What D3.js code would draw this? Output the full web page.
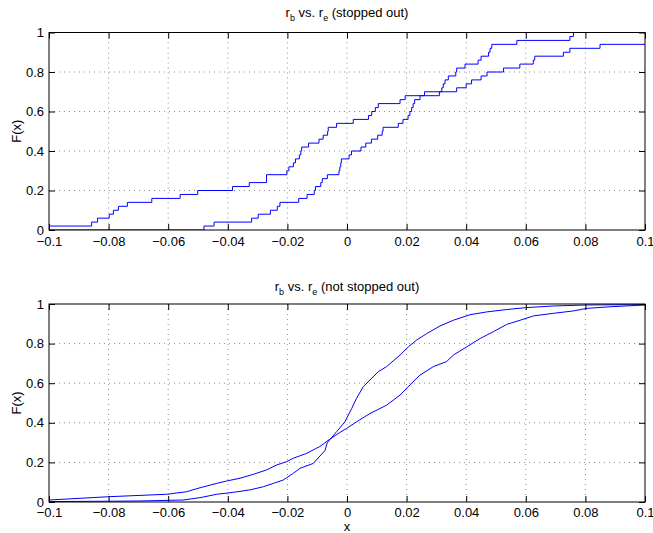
<!DOCTYPE html>
<html>
<head>
<meta charset="utf-8">
<script src="https://cdn.jsdelivr.net/npm/d3@7"></script>
<style>
  body { margin: 0; background: #fff; }
  text { font-family: "Liberation Sans", Arial, Helvetica, sans-serif; }
</style>
</head>
<body>
<svg class="svg"></svg>
<script>
// x ticks shared by both panels
const xTicks = [-0.1, -0.08, -0.06, -0.04, -0.02, 0, 0.02, 0.04, 0.06, 0.08, 0.1];
const xTickLabels = ["\u22120.1", "\u22120.08", "\u22120.06", "\u22120.04", "\u22120.02", "0", "0.02", "0.04", "0.06", "0.08", "0.1"];
const yTicks = [0, 0.2, 0.4, 0.6, 0.8, 1];
const yTickLabels = ["0", "0.2", "0.4", "0.6", "0.8", "1"];

// stopped out, curve spread wider (step ecdf)
const stopA_x = [-0.1, -0.0857, -0.0837, -0.0798, -0.0784, -0.0767, -0.0737, -0.0655, -0.056, -0.0501,
  -0.0384, -0.0328, -0.027, -0.0202, -0.0195, -0.018, -0.0173, -0.016, -0.0155, -0.0152,
  -0.0129, -0.0094, -0.008, -0.0065, -0.0063, -0.0035, 0.0021, 0.0072, 0.0083, 0.0095,
  0.0105, 0.0178, 0.0195, 0.026, 0.0368, 0.040, 0.0418, 0.045, 0.047, 0.0525,
  0.058, 0.0625, 0.063, 0.0726, 0.0748, 0.0849, 0.1];
const stopA_F = [0.02, 0.04, 0.06, 0.08, 0.10, 0.12, 0.14, 0.16, 0.18, 0.20,
  0.22, 0.24, 0.28, 0.30, 0.32, 0.34, 0.36, 0.38, 0.40, 0.42,
  0.44, 0.46, 0.48, 0.50, 0.52, 0.54, 0.56, 0.58, 0.60, 0.62,
  0.64, 0.66, 0.68, 0.70, 0.72, 0.74, 0.76, 0.78, 0.80, 0.82,
  0.84, 0.86, 0.88, 0.90, 0.92, 0.94, 0.94];

// stopped out, narrower curve
const stopB_x = [-0.1, -0.048, -0.0446, -0.032, -0.0298, -0.0257, -0.0234, -0.0225, -0.0162, -0.0134,
  -0.011, -0.0106, -0.0088, -0.0083, -0.0066, -0.0027, -0.0024, -0.0021, -0.0019, 0.0007,
  0.0015, 0.0047, 0.0063, 0.0082, 0.0103, 0.0118, 0.0121, 0.0172, 0.0188, 0.0205,
  0.0211, 0.0217, 0.0222, 0.0227, 0.0245, 0.031, 0.0318, 0.0323, 0.0329, 0.034,
  0.0365, 0.0368, 0.0396, 0.044, 0.045, 0.0475, 0.048, 0.0486, 0.057, 0.0748,
  0.076, 0.1];
const stopB_F = [0, 0.02, 0.04, 0.06, 0.08, 0.10, 0.12, 0.14, 0.16, 0.18,
  0.20, 0.22, 0.24, 0.26, 0.28, 0.30, 0.32, 0.34, 0.36, 0.38,
  0.40, 0.42, 0.44, 0.46, 0.48, 0.50, 0.52, 0.54, 0.56, 0.58,
  0.60, 0.62, 0.64, 0.66, 0.68, 0.70, 0.72, 0.74, 0.76, 0.78,
  0.80, 0.82, 0.84, 0.86, 0.88, 0.90, 0.92, 0.94, 0.96, 0.98,
  1.00, 1.00];

// not stopped out (many samples, looks smooth)
const notA_x = [-0.1, -0.0795, -0.0605, -0.0538, -0.0493, -0.0437, -0.0404, -0.0359, -0.0314, -0.027,
  -0.0236, -0.0202, -0.018, -0.0135, -0.0102, -0.0091, -0.0057, -0.0023, -0.0001, 0.0032,
  0.0077, 0.0133, 0.0178, 0.0211, 0.0245, 0.029, 0.0334, 0.0357, 0.0402, 0.0447,
  0.0491, 0.0536, 0.0581, 0.0626, 0.0693, 0.076, 0.0805, 0.0883, 0.1];
const notA_F = [0.010, 0.027, 0.039, 0.052, 0.072, 0.094, 0.106, 0.120, 0.140, 0.162,
  0.187, 0.204, 0.221, 0.246, 0.272, 0.280, 0.318, 0.352, 0.372, 0.405,
  0.447, 0.489, 0.540, 0.591, 0.641, 0.684, 0.709, 0.742, 0.784, 0.826,
  0.860, 0.897, 0.918, 0.940, 0.953, 0.965, 0.978, 0.986, 0.995];

const notB_x = [-0.1, -0.07, -0.055, -0.0493, -0.0437, -0.0381, -0.0326, -0.0281, -0.0247, -0.0214,
  -0.018, -0.0158, -0.0113, -0.0091, -0.0074, -0.0066, -0.0035, -0.0007, 0.0016, 0.0032,
  0.0055, 0.0105, 0.0133, 0.0178, 0.0206, 0.0234, 0.0267, 0.0312, 0.0357, 0.0413,
  0.0469, 0.0536, 0.0603, 0.0693, 0.0805, 0.1];
const notB_F = [0.002, 0.005, 0.010, 0.022, 0.039, 0.049, 0.061, 0.077, 0.094, 0.111,
  0.145, 0.170, 0.195, 0.232, 0.260, 0.300, 0.355, 0.405, 0.473, 0.524,
  0.583, 0.658, 0.684, 0.742, 0.784, 0.818, 0.850, 0.889, 0.918, 0.946,
  0.960, 0.972, 0.982, 0.990, 0.995, 0.997];

const width = 653, height = 533;
const svg = d3.select(".svg").attr("width", width).attr("height", height);

const x = d3.scaleLinear().domain([-0.1, 0.1]).range([49, 645]);

const panels = [
  { top: 32.5, bottom: 230, title: " (stopped out)", xlabel: false, step: true, pad: 7,
    series: [[stopA_x, stopA_F], [stopB_x, stopB_F]], titleY: 17 },
  { top: 304, bottom: 502, title: " (not stopped out)", xlabel: true, step: false, pad: 6,
    series: [[notA_x, notA_F], [notB_x, notB_F]], titleY: 291 }
];

panels.forEach((p, i) => {
  const y = d3.scaleLinear().domain([0, 1]).range([p.bottom, p.top]);
  const g = svg.append("g");

  // dotted grid
  g.selectAll("line.gx").data(xTicks.slice(1, -1)).join("line")
    .attr("x1", d => x(d)).attr("x2", d => x(d))
    .attr("y1", p.top).attr("y2", p.bottom)
    .attr("stroke", "#8c8c8c").attr("stroke-dasharray", "1,4");
  g.selectAll("line.gy").data(yTicks.slice(1, -1)).join("line")
    .attr("x1", x.range()[0]).attr("x2", x.range()[1])
    .attr("y1", d => y(d)).attr("y2", d => y(d))
    .attr("stroke", "#8c8c8c").attr("stroke-dasharray", "1,4");

  // curves
  const clipId = "clip" + i;
  svg.append("clipPath").attr("id", clipId).append("rect")
    .attr("x", x.range()[0]).attr("y", p.top)
    .attr("width", x.range()[1] - x.range()[0]).attr("height", p.bottom - p.top);

  const line = d3.line()
    .x(d => x(d[0])).y(d => y(d[1]))
    .curve(p.step ? d3.curveStepAfter : d3.curveLinear);

  p.series.forEach(s => {
    const pts = s[0].map((v, k) => [v, s[1][k]]);
    g.append("path").datum(pts)
      .attr("clip-path", `url(#${clipId})`)
      .attr("fill", "none").attr("stroke", "#0000ff").attr("stroke-width", 1)
      .attr("d", line);
  });

  // axes, ticks pointing inward
  const fmtX = (d, k) => xTickLabels[k];
  const fmtY = (d, k) => yTickLabels[k];
  const axB = g.append("g").attr("transform", `translate(0,${p.bottom})`)
    .call(d3.axisBottom(x).tickValues(xTicks).tickFormat(fmtX).tickSize(-6).tickPadding(p.pad));
  const axT = g.append("g").attr("transform", `translate(0,${p.top})`)
    .call(d3.axisTop(x).tickValues(xTicks).tickFormat("").tickSize(-6));
  const axL = g.append("g").attr("transform", `translate(${x.range()[0]},0)`)
    .call(d3.axisLeft(y).tickValues(yTicks).tickFormat(fmtY).tickSize(-6).tickPadding(5));
  const axR = g.append("g").attr("transform", `translate(${x.range()[1]},0)`)
    .call(d3.axisRight(y).tickValues(yTicks).tickFormat("").tickSize(-6));

  [axB, axT, axL, axR].forEach(a => {
    a.select(".domain").remove();
    a.selectAll("text").attr("font-size", 13).attr("fill", "#000")
      .attr("font-family", "'Liberation Sans', Arial, sans-serif");
    a.selectAll("line").attr("stroke", "#000");
  });

  g.append("rect")
    .attr("x", x.range()[0]).attr("y", p.top)
    .attr("width", x.range()[1] - x.range()[0]).attr("height", p.bottom - p.top)
    .attr("fill", "none").attr("stroke", "#000").attr("stroke-width", 1);

  // title with subscripts
  const t = g.append("text").attr("x", x(0)).attr("y", p.titleY)
    .attr("text-anchor", "middle").attr("font-size", 13);
  t.append("tspan").text("r");
  t.append("tspan").attr("dy", 4).attr("font-size", 9).text("b");
  t.append("tspan").attr("dy", -4).text(" vs. r");
  t.append("tspan").attr("dy", 4).attr("font-size", 9).text("e");
  t.append("tspan").attr("dy", -4).text(p.title);

  g.append("text")
    .attr("transform", `translate(21,${(p.top + p.bottom) / 2}) rotate(-90)`)
    .attr("text-anchor", "middle").attr("font-size", 13).text("F(x)");

  if (p.xlabel) {
    g.append("text").attr("x", x(0)).attr("y", 531)
      .attr("text-anchor", "middle").attr("font-size", 13).text("x");
  }
});
</script>
</body>
</html>
